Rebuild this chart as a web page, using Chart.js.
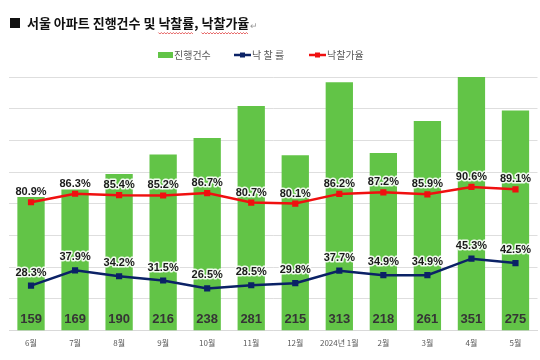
<!DOCTYPE html>
<html><head><meta charset="utf-8">
<script src="https://cdn.jsdelivr.net/npm/chart.js@4/dist/chart.umd.min.js"></script>
<style>
html,body{margin:0;padding:0;background:#fff;overflow:hidden;width:540px;height:360px}
#wrap{position:absolute;left:0;top:0;width:544px;height:360px}
</style></head><body>
<div id="wrap"><canvas id="c" width="544" height="360"></canvas></div>
<script>
const categories = ['6월','7월','8월','9월','10월','11월','12월','2024년 1월','2월','3월','4월','5월'];
const counts = [159,169,190,216,238,281,215,313,218,261,351,275];
const bidRate = [28.3,37.9,34.2,31.5,26.5,28.5,29.8,37.7,34.9,34.9,45.3,42.5];
const priceRate = [80.9,86.3,85.4,85.2,86.7,80.7,80.1,86.2,87.2,85.9,90.6,89.1];
const seriesNames = ['진행건수','낙 찰 률','낙찰가율'];
const titleText = '서울 아파트 진행건수 및 낙찰률, 낙찰가율';

const KFONT = '"Noto Sans CJK KR", "Noto Sans", sans-serif';
const GREEN = '#62c447', NAVY = '#0b2266', RED = '#f01010';

const decor = {
  id: 'decor',
  afterDraw(chart) {
    const ctx = chart.ctx;
    ctx.save();
    // title
    ctx.fillStyle = '#111';
    ctx.fillRect(10, 18, 10, 10);
    ctx.font = 'bold 13px ' + KFONT;
    ctx.textBaseline = 'middle';
    ctx.textAlign = 'left';
    ctx.fillText(titleText, 27, 23);
    const w = ctx.measureText(titleText).width;
    ctx.fillStyle = '#999';
    ctx.font = '9px ' + KFONT;
    ctx.fillText('↵', 27 + w + 1, 26);
    // spell-check squiggles
    const squig = (x0, x1, y) => {
      ctx.beginPath(); ctx.strokeStyle = '#e04040'; ctx.lineWidth = 0.8;
      for (let x = x0, k = 0; x <= x1; x += 1.5, k++) {
        const yy = y + (k % 2 ? 1 : -0.5);
        if (k === 0) ctx.moveTo(x, yy); else ctx.lineTo(x, yy);
      }
      ctx.stroke();
    };
    ctx.font = 'bold 13px ' + KFONT;
    const pre1 = '서울 아파트 진행건수 및 ';
    const a = 27 + ctx.measureText(pre1).width;
    const b = a + ctx.measureText('낙찰률').width;
    const c = 27 + ctx.measureText('서울 아파트 진행건수 및 낙찰률, ').width;
    const d = 27 + w;
    squig(a, b, 33); squig(c, d, 33);
    // legend
    ctx.font = '10px ' + KFONT;
    ctx.fillStyle = '#595959';
    ctx.textBaseline = 'middle';
    const ly = 55;
    ctx.fillStyle = GREEN; ctx.fillRect(158, ly - 3, 15, 6);
    ctx.fillStyle = '#595959'; ctx.fillText(seriesNames[0], 174, ly);
    const lineItem = (x, col, txt) => {
      ctx.strokeStyle = col; ctx.lineWidth = 2.5;
      ctx.beginPath(); ctx.moveTo(x, ly); ctx.lineTo(x + 17, ly); ctx.stroke();
      ctx.fillStyle = col; ctx.fillRect(x + 6, ly - 2.5, 5, 5);
      ctx.fillStyle = '#595959'; ctx.fillText(txt, x + 18, ly);
    };
    lineItem(234, NAVY, seriesNames[1]);
    lineItem(309, RED, seriesNames[2]);
    ctx.restore();
  },
  afterDatasetsDraw(chart) {
    const ctx = chart.ctx;
    ctx.save();
    ctx.textAlign = 'center';
    ctx.textBaseline = 'middle';
    // bar labels
    const mb = chart.getDatasetMeta(0);
    const yb = chart.chartArea.bottom - 11;
    ctx.font = 'bold 13px "Liberation Sans", Arial, sans-serif';
    ctx.fillStyle = '#353535';
    mb.data.forEach((el, i) => ctx.fillText(String(counts[i]), el.x, yb));
    // percent labels
    ctx.font = 'bold 11px "Liberation Sans", Arial, sans-serif';
    ctx.lineJoin = 'round';
    [[1, bidRate, 13], [2, priceRate, 10]].forEach(([di, arr, off]) => {
      const m = chart.getDatasetMeta(di);
      m.data.forEach((el, i) => {
        const t = arr[i].toFixed(1) + '%';
        ctx.strokeStyle = 'rgba(255,255,255,0.9)'; ctx.lineWidth = 3;
        ctx.strokeText(t, el.x, el.y - off);
        ctx.fillStyle = '#1a1a1a';
        ctx.fillText(t, el.x, el.y - off);
      });
    });
    ctx.restore();
  }
};

new Chart(document.getElementById('c'), {
  data: {
    labels: categories,
    datasets: [
      { type: 'bar', label: seriesNames[0], data: counts, backgroundColor: GREEN,
        yAxisID: 'y', base: -20, barPercentage: 0.62, categoryPercentage: 1, order: 2 },
      { type: 'line', label: seriesNames[1], data: bidRate, borderColor: NAVY, backgroundColor: NAVY,
        borderWidth: 2.5, pointStyle: 'rect', pointRadius: 2.6, yAxisID: 'y1', order: 1, tension: 0 },
      { type: 'line', label: seriesNames[2], data: priceRate, borderColor: RED, backgroundColor: RED,
        borderWidth: 2.5, pointStyle: 'rect', pointRadius: 2.6, yAxisID: 'y1', order: 1, tension: 0 }
    ]
  },
  options: {
    responsive: false,
    animation: false,
    layout: { padding: { left: 9, right: 2, top: 77, bottom: 12 } },
    plugins: { legend: { display: false }, title: { display: false }, tooltip: { enabled: false } },
    scales: {
      x: {
        offset: true,
        grid: { display: false },
        border: { display: true, color: '#d9d9d9' },
        ticks: { color: '#595959', font: { family: KFONT, size: 8 }, padding: 0, maxRotation: 0, autoSkip: false }
      },
      y: { display: false, min: -20, max: 320 },
      y1: {
        position: 'left', min: 0, max: 160,
        ticks: { display: false, stepSize: 20 },
        grid: { color: '#dedede', drawTicks: false },
        border: { display: false }
      }
    }
  },
  plugins: [decor]
});
</script>
</body></html>
